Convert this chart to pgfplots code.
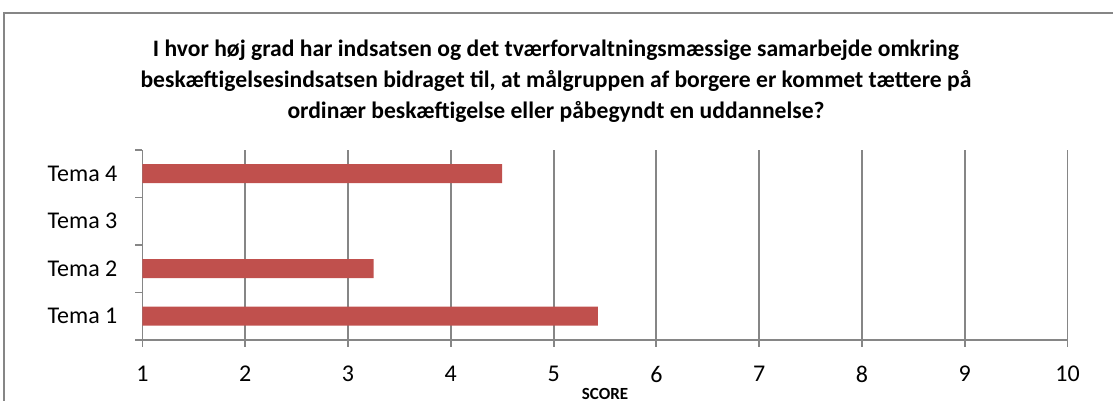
\documentclass[border=0pt]{standalone}
\usepackage{pgfplots}
\pgfplotsset{compat=1.18}
\usepackage{fontspec}
\setmainfont{Carlito}
\definecolor{barred}{HTML}{C0504D}
\definecolor{gridgray}{HTML}{868686}
\begin{document}
\begin{tikzpicture}
\useasboundingbox (0,0) rectangle (556.5pt,200.5pt);
\draw[gridgray, line width=1pt] (2pt,-10pt) -- (2pt,194pt) -- (570pt,194pt);
\node[align=center, font=\fontsize{11.8}{15.5}\selectfont\bfseries] at (278pt,160pt)
  {I hvor høj grad har indsatsen og det tværforvaltningsmæssige samarbejde omkring\\
   beskæftigelsesindsatsen bidraget til, at målgruppen af borgere er kommet tættere på\\
   ordinær beskæftigelse eller påbegyndt en uddannelse?};
\begin{axis}[
  at={(71.2pt,30.5pt)}, anchor=south west,
  width=462.6pt, height=95pt, scale only axis,
  xmin=1, xmax=10, ymin=0.5, ymax=4.5,
  xtick={1,2,...,10},
  ytick={0.5,1.5,2.5,3.5,4.5}, yticklabels={},
  extra y ticks={1,2,3,4},
  extra y tick labels={Tema 1,Tema 2,Tema 3,Tema 4},
  extra y tick style={major tick length=0pt, yticklabel style={xshift=-9pt}},
  axis x line*=bottom, axis y line*=left,
  axis line style={gridgray, line width=0.9pt, -},
  tick style={gridgray, line width=0.9pt},
  tick align=outside, major tick length=3.5pt,
  xmajorgrids, grid style={gridgray, line width=0.9pt},
  ymajorgrids=false,
  tick label style={font=\fontsize{12}{14}\selectfont, text=black},
  /pgf/number format/assume math mode=true,
  xticklabel style={yshift=-6pt},
  xlabel={SCORE},
  xlabel style={font=\fontsize{8.5}{10}\selectfont\bfseries, yshift=4pt},
  xbar, bar width=9.5pt, bar shift=0pt,
]
\addplot[fill=barred, draw=none] coordinates {(5.43,1) (3.25,2) (4.50,4)};
\end{axis}
\end{tikzpicture}
\end{document}
